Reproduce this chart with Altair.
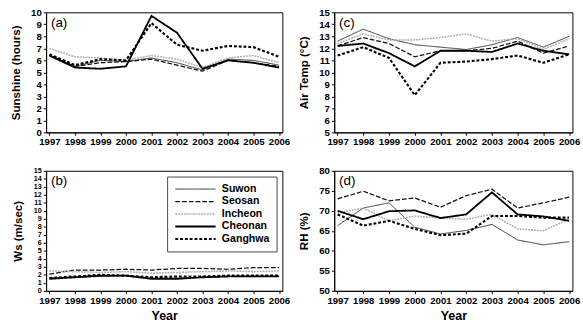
import altair as alt
import pandas as pd

years = [1997, 1998, 1999, 2000, 2001, 2002, 2003, 2004, 2005, 2006]
stations = ["Suwon", "Seosan", "Incheon", "Cheonan", "Ganghwa"]

sun_suwon = [6.4, 5.5, 6.0, 5.9, 6.2, 5.8, 5.2, 6.1, 6.0, 5.6]
sun_seosan = [6.4, 5.5, 5.8, 5.9, 6.1, 5.6, 5.1, 6.0, 5.8, 5.5]
sun_incheon = [7.0, 6.3, 6.2, 6.0, 6.4, 6.1, 5.4, 6.2, 6.4, 5.8]
sun_cheonan = [6.4, 5.4, 5.3, 5.5, 9.7, 8.3, 5.3, 6.0, 5.8, 5.4]
sun_ganghwa = [6.5, 5.6, 6.1, 6.0, 9.1, 7.3, 6.8, 7.2, 7.1, 6.3]

ws_suwon = [1.6, 1.7, 1.8, 1.9, 1.6, 1.6, 1.7, 1.8, 1.8, 1.8]
ws_seosan = [2.1, 2.6, 2.6, 2.7, 2.6, 2.8, 2.8, 2.7, 2.9, 2.9]
ws_incheon = [2.5, 2.4, 2.3, 2.4, 2.2, 2.3, 2.4, 2.5, 2.4, 2.5]
ws_cheonan = [1.5, 1.7, 1.9, 1.9, 1.5, 1.5, 1.7, 1.8, 1.8, 1.8]
ws_ganghwa = [1.6, 1.8, 2.0, 1.9, 1.7, 1.8, 1.8, 1.9, 1.9, 1.9]

ta_suwon = [12.6, 13.6, 12.8, 12.3, 12.1, 11.9, 12.3, 12.9, 12.1, 13.0]
ta_seosan = [12.2, 12.9, 12.4, 11.3, 11.8, 11.8, 12.0, 12.6, 11.6, 12.2]
ta_incheon = [12.4, 13.2, 12.7, 12.7, 12.9, 13.2, 12.6, 12.8, 11.9, 12.8]
ta_cheonan = [12.2, 12.4, 11.6, 10.5, 11.8, 11.8, 11.7, 12.4, 11.8, 11.5]
ta_ganghwa = [11.4, 12.1, 11.2, 8.1, 10.8, 10.9, 11.1, 11.4, 10.8, 11.5]

rh_suwon = [66.3, 70.7, 72.0, 65.9, 64.2, 65.1, 66.6, 62.7, 61.5, 62.3]
rh_seosan = [73.0, 74.9, 72.5, 73.2, 70.9, 73.8, 75.4, 70.7, 72.0, 73.4]
rh_incheon = [69.5, 70.7, 67.5, 68.7, 68.2, 67.9, 69.1, 65.5, 65.0, 67.9]
rh_cheonan = [70.0, 67.9, 69.9, 70.1, 68.2, 69.1, 74.6, 69.1, 68.6, 67.5]
rh_ganghwa = [69.1, 66.3, 67.5, 65.5, 63.9, 64.3, 68.7, 68.7, 68.3, 68.3]


def frame(series):
    rows = []
    for st, vals in zip(stations, series):
        for y, v in zip(years, vals):
            rows.append({"year": y, "station": st, "value": v})
    return pd.DataFrame(rows)


df_sun = frame([sun_suwon, sun_seosan, sun_incheon, sun_cheonan, sun_ganghwa])
df_ws = frame([ws_suwon, ws_seosan, ws_incheon, ws_cheonan, ws_ganghwa])
df_ta = frame([ta_suwon, ta_seosan, ta_incheon, ta_cheonan, ta_ganghwa])
df_rh = frame([rh_suwon, rh_seosan, rh_incheon, rh_cheonan, rh_ganghwa])

colors = ["#333333", "#111111", "#b0b0b0", "#000000", "#000000"]
dashes = [[1, 0], [5, 2], [2, 1], [1, 0], [3, 2]]
widths = [1.0, 2.2, 2.0, 3.6, 4.5]

H = 125


def panel(df, ytitle, ydom, ystep, label, xtitle, show_legend, W, ylab=10):
    if show_legend:
        leg = alt.Legend(title=None, orient="top-right", offset=6,
                         symbolType="stroke", symbolSize=1764, clipHeight=12,
                         columns=1,
                         labelFontSize=11, labelFont="Liberation Sans",
                         labelFontWeight="bold", labelColor="black",
                         strokeColor="#444444", fillColor="white",
                         padding=7, rowPadding=1, labelOffset=5)
    else:
        leg = None
    yvals = list(range(ydom[0], ydom[1] + 1, ystep))
    lines = alt.Chart(df).mark_line().encode(
        x=alt.X("year:Q", scale=alt.Scale(domain=[1996.87, 2006.13], nice=False),
                axis=alt.Axis(values=years, format="d", title=xtitle)),
        y=alt.Y("value:Q", scale=alt.Scale(domain=ydom, nice=False),
                axis=alt.Axis(values=yvals, title=ytitle, labelFontSize=ylab,
                              labelOverlap=False)),
        color=alt.Color("station:N", scale=alt.Scale(domain=stations, range=colors),
                        legend=leg),
        strokeDash=alt.StrokeDash("station:N", scale=alt.Scale(domain=stations, range=dashes),
                                  legend=leg),
        strokeWidth=alt.StrokeWidth("station:N", scale=alt.Scale(domain=stations, range=widths),
                                    legend=leg),
        order=alt.Order("year:Q"),
    )
    txt = alt.Chart(pd.DataFrame({"t": [label]})).mark_text(
        align="left", baseline="top", fontSize=14, font="Liberation Sans"
    ).encode(text="t:N", x=alt.value(5), y=alt.value(4))
    return alt.layer(lines, txt).properties(width=W, height=H)


pa = panel(df_sun, "Sunshine (hours)", [0, 10], 1, "(a)", None, False, 246)
pc = panel(df_ta, "Air Temp (°C)", [5, 15], 1, "(c)", None, False, 248)
pb = panel(df_ws, "Ws (m/sec)", [0, 15], 1, "(b)", "Year", True, 246, ylab=7.5)
pd_ = panel(df_rh, "RH (%)", [50, 80], 5, "(d)", "Year", False, 248)

ind = dict(color="independent", strokeDash="independent", strokeWidth="independent")
top = alt.hconcat(pa, pc, spacing=6).resolve_legend(**ind)
bottom = alt.hconcat(pb, pd_, spacing=6).resolve_legend(**ind)

chart = alt.vconcat(top, bottom, spacing=18).resolve_legend(**ind).properties(
    padding={"left": 9, "top": 0, "right": 2, "bottom": 2}
).configure_view(stroke="black", strokeWidth=1).configure_axis(
    grid=False, domainColor="black", tickColor="black", tickSize=3,
    labelFont="Liberation Sans", labelFontWeight="bold", labelFontSize=10,
    labelColor="black", titleFont="Liberation Sans", titleFontWeight="bold",
    titleFontSize=12, titleColor="black", labelPadding=2, titlePadding=3,
    labelFlush=False
).configure_axisX(titleFontSize=13, titlePadding=5).configure_axisY(titlePadding=9)

chart.save("out.html", embed_options={"renderer": "svg", "actions": False})
